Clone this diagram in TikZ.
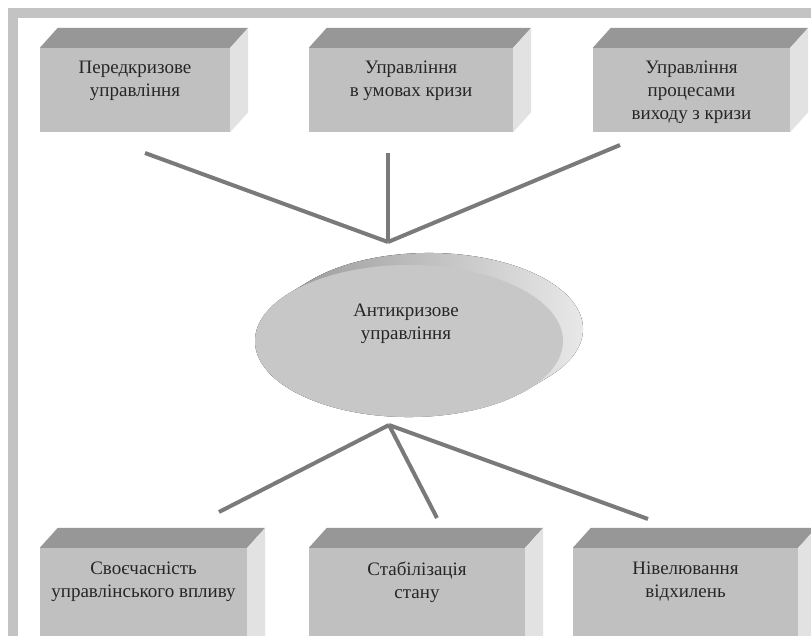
\documentclass[tikz,border=0pt]{standalone}
\usepackage{fontspec}
\setmainfont{Liberation Serif}
\usetikzlibrary{positioning, calc, shapes.geometric}

\definecolor{boxfront}{HTML}{C0C0C0}
\definecolor{boxtop}{HTML}{979797}
\definecolor{boxside}{HTML}{E2E2E2}
\definecolor{framegray}{HTML}{C3C3C3}
\definecolor{linkgray}{HTML}{7A7A7A}
\definecolor{discgray}{HTML}{C7C7C7}
\definecolor{rimdark}{HTML}{8E8E8E}
\definecolor{rimlight}{HTML}{EDEDED}

\begin{document}
\begin{tikzpicture}[
    x=1pt, y=-1pt,
    cube/.style={rectangle, fill=boxfront, inner sep=0pt, minimum height=84pt},
    lowcube/.style={cube, minimum height=110pt},
    lbl/.style={align=center, inner sep=0pt, text=black!85,
      font=\fontsize{19}{23}\selectfont},
    disc/.style={ellipse, fill=discgray, inner sep=0pt,
      minimum width=308pt, minimum height=152pt},
    link/.style={draw=linkgray, line width=4pt},
  ]
  \useasboundingbox (0,0) rectangle (811,636);
  \clip (0,0) rectangle (811,636);

  % Frame
  \draw[framegray, line width=10pt] (13,640) -- (13,13) -- (815,13);

  % Boxes
  \node[cube, minimum width=190pt] (t1) at (135,90) {};
  \node[cube, minimum width=204pt] (t2) at (411,90) {};
  \node[cube, minimum width=197pt] (t3) at (691.5,90) {};
  \node[lowcube, minimum width=207pt] (s1) at (143.5,603) {};
  \node[lowcube, minimum width=216pt] (s2) at (417,603) {};
  \node[lowcube, minimum width=225pt] (s3) at (685.5,603) {};

  \foreach \b in {t1,t2,t3,s1,s2,s3} {
    \fill[boxtop] (\b.north west) -- ++(18,-20) -- ($(\b.north east)+(18,-20)$)
      -- (\b.north east) -- cycle;
    \fill[boxside] (\b.north east) -- ++(18,-20) -- ($(\b.south east)+(18,-20)$)
      -- (\b.south east) -- cycle;
  }

  % Labels in the boxes
  \node[lbl, below=13pt of t1.north] (t1l) {Передкризове\\управління};
  \node[lbl, below=13pt of t2.north] (t2l) {Управління\\в умовах кризи};
  \node[lbl, below=13pt of t3.north] (t3l) {Управління\\процесами\\виходу з кризи};
  \node[lbl, below=14pt of s1.north] (s1l) {Своєчасність\\управлінського впливу};
  \node[lbl, below=14pt of s2.north] (s2l) {Стабілізація\\стану};
  \node[lbl, below=14pt of s3.north] (s3l) {Нівелювання\\відхилень};

  % Disc with its rim
  \coordinate (discc) at (409,341);
  \fill[left color=rimdark, right color=rimlight]
    ($(discc)+(119,48.2)$) -- ($(discc)+(139,36.2)$)
    arc[start angle=39.4, end angle=-140.6, x radius=154, y radius=76]
    -- ($(discc)+(-119,-48.2)$)
    arc[start angle=-140.6, end angle=-320.6, x radius=154, y radius=76]
    -- cycle;
  \node[disc] (anti) at (discc) {};
  \node[lbl] (antil) at (406,324) {Антикризове\\управління};

  % Links
  \coordinate (upjoin) at (388,242);
  \coordinate (downjoin) at (389,425);
  \coordinate (u1) at (145,153);
  \coordinate (u2) at (388,153);
  \coordinate (u3) at (620,145);
  \coordinate (d1) at (219,512);
  \coordinate (d2) at (437,518);
  \coordinate (d3) at (648,519);
  \foreach \p in {u1,u2,u3}
    \draw[link] (\p) -- (upjoin);
  \foreach \p in {d1,d2,d3}
    \draw[link] (downjoin) -- (\p);
\end{tikzpicture}
\end{document}
